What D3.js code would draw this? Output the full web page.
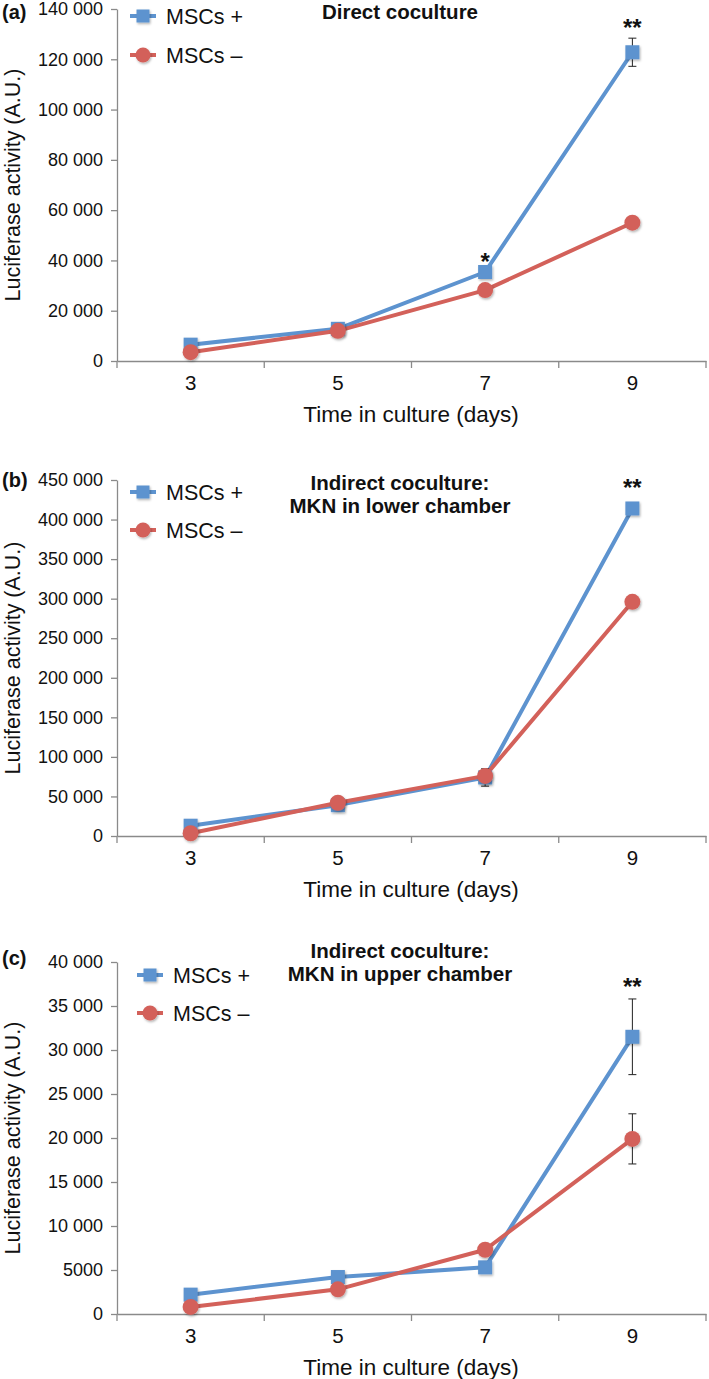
<!DOCTYPE html>
<html><head><meta charset="utf-8">
<script src="https://cdn.jsdelivr.net/npm/d3@7"></script>
<style>
body{margin:0;background:#fff;}
svg{display:block;font-family:"Liberation Sans",Arial,sans-serif;}
</style></head>
<body>
<svg id="chart" width="709" height="1379"></svg>
<script>
const days = [3, 5, 7, 9];
const seriesNames = ["MSCs +", "MSCs \u2013"];

// Panel (a) Direct coculture
const aPlus = [6500, 12800, 35400, 122800];
const aPlusErr = [0, 0, 0, 5600];
const aMinus = [3500, 12000, 28200, 55000];
const aMinusErr = [0, 0, 0, 0];
const aTicks = [0, 20000, 40000, 60000, 80000, 100000, 120000, 140000];
const aStars = ["", "", "*", "**"];

// Panel (b) Indirect coculture: MKN in lower chamber
const bPlus = [13000, 39000, 74000, 414000];
const bPlusErr = [0, 0, 11000, 0];
const bMinus = [3500, 42000, 76000, 296000];
const bMinusErr = [0, 0, 0, 0];
const bTicks = [0, 50000, 100000, 150000, 200000, 250000, 300000, 350000, 400000, 450000];
const bStars = ["", "", "", "**"];

// Panel (c) Indirect coculture: MKN in upper chamber
const cPlus = [2200, 4200, 5300, 31500];
const cPlusErr = [0, 0, 0, 4300];
const cMinus = [800, 2800, 7300, 19900];
const cMinusErr = [0, 0, 0, 2850];
const cTicks = [0, 5000, 10000, 15000, 20000, 25000, 30000, 35000, 40000];
const cStars = ["", "", "", "**"];

const blue = "#5d93cf", red = "#d3615a";
const svg = d3.select("#chart");

const defs = svg.append("defs");
const f = defs.append("filter").attr("id","sh").attr("x","-50%").attr("y","-50%").attr("width","200%").attr("height","200%");
f.append("feDropShadow").attr("dx",1).attr("dy",1.5).attr("stdDeviation",1.2).attr("flood-color","#000").attr("flood-opacity",0.3);

function fmt(v){
  if (v >= 10000) { const s = String(v); return s.slice(0, s.length-3) + " " + s.slice(-3); }
  return String(v);
}

function marker(g, type, cx, cy, color, size){
  if (type === "square") {
    g.append("rect").attr("x", cx - size/2).attr("y", cy - size/2).attr("width", size).attr("height", size)
      .attr("fill", color).attr("filter","url(#sh)");
  } else {
    g.append("circle").attr("cx", cx).attr("cy", cy).attr("r", size/2 + 1).attr("fill", color).attr("filter","url(#sh)");
  }
}

function panel(cfg){
  const g = svg.append("g");
  const x = d3.scaleBand().domain(days).range([117, 706]);
  const cx = d => x(d) + x.bandwidth()/2;
  const y = d3.scaleLinear().domain([0, d3.max(cfg.ticks)]).range([cfg.bottom, cfg.top]);

  // y axis
  const ya = g.append("g").attr("transform","translate(117,0)")
    .call(d3.axisLeft(y).tickValues(cfg.ticks).tickFormat(fmt).tickSize(6).tickSizeOuter(0).tickPadding(8));
  ya.select(".domain").attr("stroke","#8a8a8a").attr("stroke-width",1.3);
  ya.selectAll(".tick line").attr("stroke","#8a8a8a").attr("stroke-width",1.3);
  ya.selectAll(".tick text").attr("font-size",18).attr("fill","#111").attr("font-family","'Liberation Sans',Arial,sans-serif");

  // x axis
  const xa = g.append("g").attr("transform",`translate(0,${cfg.bottom})`)
    .call(d3.axisBottom(x).tickSize(0).tickSizeOuter(0).tickPadding(14));
  xa.select(".domain").attr("stroke","#8a8a8a").attr("stroke-width",1.3);
  xa.selectAll(".tick text").attr("font-size",20.5).attr("fill","#111").attr("font-family","'Liberation Sans',Arial,sans-serif");
  const bounds = days.map(d => x(d)).concat([x.range()[1]]);
  xa.selectAll("line.bt").data(bounds).enter().append("line").attr("class","bt")
    .attr("x1", d => d).attr("x2", d => d).attr("y1", 0).attr("y2", 7)
    .attr("stroke","#8a8a8a").attr("stroke-width",1.3);

  // axis titles
  g.append("text").attr("x", 411).attr("y", cfg.bottom + 61).attr("text-anchor","middle")
    .attr("font-size",22.5).attr("fill","#111").text("Time in culture (days)");
  g.append("text").attr("transform",`translate(20,${(cfg.top+cfg.bottom)/2}) rotate(-90)`).attr("text-anchor","middle")
    .attr("font-size",21.5).attr("fill","#111").text("Luciferase activity (A.U.)");

  // panel label
  g.append("text").attr("x", 2).attr("y", cfg.top + cfg.labelDy).attr("font-size",20).attr("font-weight","bold").attr("fill","#111").text(cfg.label);

  // title
  cfg.title.forEach((t,i) => {
    g.append("text").attr("x", 400).attr("y", cfg.titleY + i*23).attr("text-anchor","middle")
      .attr("font-size",20.5).attr("font-weight","bold").attr("fill","#111").text(t);
  });

  const line = d3.line().x((d,i) => cx(days[i])).y(d => y(d));
  const series = [
    {vals: cfg.plus, err: cfg.plusErr, color: blue, type: "square"},
    {vals: cfg.minus, err: cfg.minusErr, color: red, type: "circle"}
  ];
  series.forEach(s => {
    g.append("path").attr("d", line(s.vals)).attr("fill","none").attr("stroke", s.color).attr("stroke-width",4).attr("stroke-linejoin","round");
  });
  // error bars
  series.forEach(s => {
    s.vals.forEach((v,i) => {
      if (!s.err[i]) return;
      const X = cx(days[i]), y1 = y(v + s.err[i]), y2 = y(v - s.err[i]);
      g.append("line").attr("x1",X).attr("x2",X).attr("y1",y1).attr("y2",y2).attr("stroke","#222").attr("stroke-width",1);
      [y1,y2].forEach(yy => g.append("line").attr("x1",X-4).attr("x2",X+4).attr("y1",yy).attr("y2",yy).attr("stroke","#222").attr("stroke-width",1));
    });
  });
  series.forEach(s => {
    s.vals.forEach((v,i) => marker(g, s.type, cx(days[i]), y(v), s.color, 14));
  });

  // stars
  cfg.stars.forEach((st,i) => {
    if (!st) return;
    const top = Math.max(cfg.plus[i] + cfg.plusErr[i], cfg.minus[i] + cfg.minusErr[i]);
    g.append("text").attr("x", cx(days[i])).attr("y", y(top) - cfg.starGap).attr("text-anchor","middle")
      .attr("font-size",24).attr("font-weight","bold").attr("fill","#111").text(st);
  });

  // legend
  seriesNames.forEach((n,i) => {
    const ly = cfg.legY + i*cfg.legStep;
    const lx = cfg.legX;
    g.append("line").attr("x1",lx).attr("x2",lx+26).attr("y1",ly).attr("y2",ly).attr("stroke", series[i].color).attr("stroke-width",4);
    marker(g, series[i].type, lx+13, ly, series[i].color, 13);
    g.append("text").attr("x", lx+36).attr("y", ly).attr("dy","0.35em").attr("font-size",21.5).attr("fill","#111").text(n);
  });
}

panel({label:"(a)", labelDy:10, top:9, bottom:361, ticks:aTicks, plus:aPlus, plusErr:aPlusErr, minus:aMinus, minusErr:aMinusErr,
  stars:aStars, starGap:2, title:["Direct coculture"], titleY:19, legX:130, legY:16, legStep:39});
panel({label:"(b)", labelDy:7, top:480, bottom:836, ticks:bTicks, plus:bPlus, plusErr:bPlusErr, minus:bMinus, minusErr:bMinusErr,
  stars:bStars, starGap:12, title:["Indirect coculture:","MKN in lower chamber"], titleY:490, legX:130, legY:492, legStep:38});
panel({label:"(c)", labelDy:3, top:962, bottom:1314, ticks:cTicks, plus:cPlus, plusErr:cPlusErr, minus:cMinus, minusErr:cMinusErr,
  stars:cStars, starGap:4, title:["Indirect coculture:","MKN in upper chamber"], titleY:958, legX:137, legY:975, legStep:38});
</script>
</body></html>
